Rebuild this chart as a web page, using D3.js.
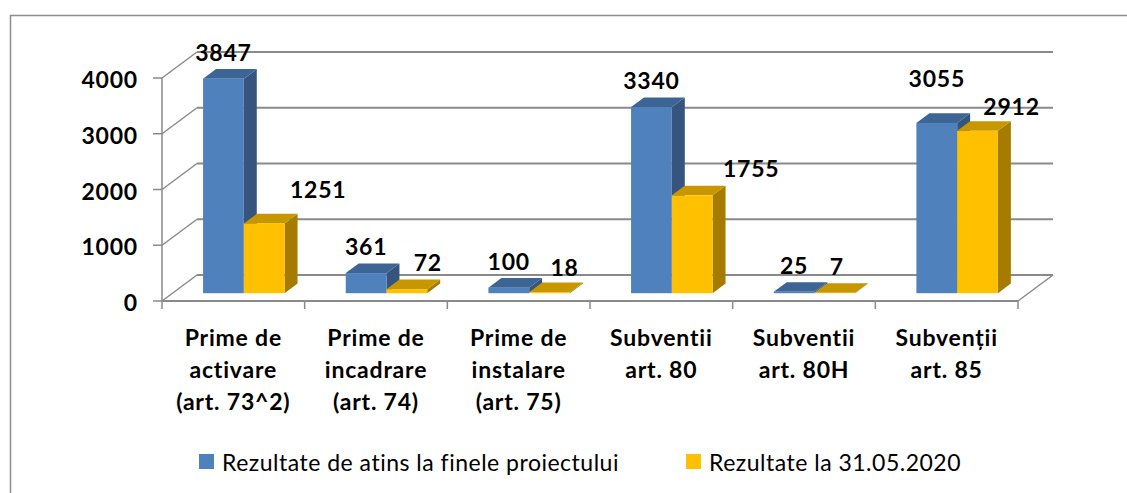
<!DOCTYPE html>
<html>
<head>
<meta charset="utf-8">
<script src="https://cdn.jsdelivr.net/npm/d3@7"></script>
<style>
  body { margin: 0; background: #fff; }
  svg text { font-family: Lato, "Open Sans", sans-serif; fill: #000; }
  .tick-lbl, .val-lbl, .cat-lbl { font-weight: bold; letter-spacing: 0.8px; }
</style>
</head>
<body>
<div id="chart"></div>
<script>
var categories = [
  ["Prime de", "activare", "(art. 73^2)"],
  ["Prime de", "incadrare", "(art. 74)"],
  ["Prime de", "instalare", "(art. 75)"],
  ["Subventii", "art. 80"],
  ["Subventii", "art. 80H"],
  ["Subvenții", "art. 85"]
];
var seriesNames = ["Rezultate de atins la finele proiectului", "Rezultate la 31.05.2020"];
var targetValues = [3847, 361, 100, 3340, 25, 3055];
var actualValues = [1251, 72, 18, 1755, 7, 2912];
var yTicks = [0, 1000, 2000, 3000, 4000];

// label nudges (layout only), px from the default spot above the bar
var nudgeTarget = [[0, 0], [0, 0], [0, 0], [0, 0], [0, 0], [0, -18]];
var nudgeActual = [[54, -7], [21, 0], [15, 2], [59, 0], [2, 0], [34, 2]];

var svgWidth = 1127, svgHeight = 493;
var colors = [
  { front: "#4F81BD", top: "#3C6595", side: "#35557E" },
  { front: "#FFC000", top: "#C89700", side: "#A67C00" }
];
var grid = "#8a8a8a";

// depth of the floor (3d offset), and where bars sit in that depth
var depth = { dx: 35, dy: -26 };
var f0 = 0.3, f1 = 0.67;

var svg = d3.select("#chart").append("svg")
  .attr("width", svgWidth)
  .attr("height", svgHeight);

// outer chart border (runs off the right/bottom of the picture)
svg.append("rect")
  .attr("x", 10.5).attr("y", 15.5)
  .attr("width", 1200).attr("height", 600)
  .attr("fill", "none")
  .attr("stroke", "#8c8c8c")
  .attr("stroke-width", 1.5);

var x = d3.scaleBand()
  .domain(d3.range(categories.length))
  .range([162, 1018])
  .paddingInner(0).paddingOuter(0);

var xs = d3.scaleBand()
  .domain([0, 1])
  .range([0, x.bandwidth()])
  .paddingInner(0).paddingOuter(0.75);

var y = d3.scaleLinear().domain([0, 4000]).range([301, 78]);

var x0 = x.range()[0], x1 = x.range()[1];
var g = svg.append("g");

// back wall gridlines + side wall diagonals
yTicks.forEach(function(t) {
  g.append("line")
    .attr("x1", x0 + depth.dx).attr("x2", x1 + depth.dx)
    .attr("y1", y(t) + depth.dy).attr("y2", y(t) + depth.dy)
    .attr("stroke", grid).attr("stroke-width", 1.8);
  g.append("line")
    .attr("x1", x0).attr("x2", x0 + depth.dx)
    .attr("y1", y(t)).attr("y2", y(t) + depth.dy)
    .attr("stroke", grid).attr("stroke-width", 1.5);
});

// floor right edge
g.append("line")
  .attr("x1", x1).attr("x2", x1 + depth.dx)
  .attr("y1", y(0)).attr("y2", y(0) + depth.dy)
  .attr("stroke", grid).attr("stroke-width", 1.5);

// front axes
g.append("line")
  .attr("x1", x0).attr("x2", x0)
  .attr("y1", y(0)).attr("y2", y(4000))
  .attr("stroke", grid).attr("stroke-width", 1.5);
g.append("line")
  .attr("x1", x0).attr("x2", x1)
  .attr("y1", y(0)).attr("y2", y(0))
  .attr("stroke", grid).attr("stroke-width", 1.8);

// y ticks + labels
yTicks.forEach(function(t) {
  g.append("line")
    .attr("x1", x0 - 9).attr("x2", x0)
    .attr("y1", y(t)).attr("y2", y(t))
    .attr("stroke", grid).attr("stroke-width", 1.5);
  g.append("text")
    .attr("class", "tick-lbl")
    .attr("x", 138).attr("y", y(t) + 1)
    .attr("text-anchor", "end")
    .attr("dominant-baseline", "central")
    .style("font-size", "23px")
    .text(t);
});

// category ticks
d3.range(categories.length + 1).forEach(function(i) {
  var cx = x0 + i * x.bandwidth();
  g.append("line")
    .attr("x1", cx).attr("x2", cx)
    .attr("y1", y(0)).attr("y2", y(0) + 8)
    .attr("stroke", grid).attr("stroke-width", 1.5);
});

// bars
var ddx = (f1 - f0) * depth.dx, ddy = (f1 - f0) * depth.dy;
function pts(a) { return a.map(function(p) { return p.join(","); }).join(" "); }

function drawBar(ci, si, v) {
  var c = colors[si];
  var bx = x(ci) + xs(si) + f0 * depth.dx;
  var bw = xs.bandwidth();
  var yt = y(v) + f0 * depth.dy;
  var yb = y(0) + f0 * depth.dy;
  var bar = g.append("g");
  bar.append("polygon")
    .attr("points", pts([[bx + bw, yt], [bx + bw + ddx, yt + ddy], [bx + bw + ddx, yb + ddy], [bx + bw, yb]]))
    .attr("fill", c.side);
  bar.append("polygon")
    .attr("points", pts([[bx, yt], [bx + bw, yt], [bx + bw + ddx, yt + ddy], [bx + ddx, yt + ddy]]))
    .attr("fill", c.top);
  bar.append("rect")
    .attr("x", bx).attr("y", yt)
    .attr("width", bw).attr("height", Math.max(0, yb - yt))
    .attr("fill", c.front);
  return { cx: bx + bw / 2, top: yt };
}

var labelSpots = [];
categories.forEach(function(cat, i) {
  var a = drawBar(i, 0, targetValues[i]);
  var b = drawBar(i, 1, actualValues[i]);
  labelSpots.push({ x: a.cx + nudgeTarget[i][0], y: a.top - 27 + nudgeTarget[i][1], v: targetValues[i] });
  labelSpots.push({ x: b.cx + nudgeActual[i][0], y: b.top - 27 + nudgeActual[i][1], v: actualValues[i] });
});

// value labels
g.selectAll(".val-lbl")
  .data(labelSpots)
  .enter()
  .append("text")
  .attr("class", "val-lbl")
  .attr("x", d => d.x)
  .attr("y", d => d.y)
  .attr("text-anchor", "middle")
  .attr("dominant-baseline", "central")
  .style("font-size", "23px")
  .text(d => d.v);

// category labels
categories.forEach(function(lines, i) {
  var t = g.append("text")
    .attr("class", "cat-lbl")
    .attr("text-anchor", "middle")
    .style("font-size", "23px");
  lines.forEach(function(line, k) {
    t.append("tspan")
      .attr("x", x(i) + x.bandwidth() / 2)
      .attr("y", 337 + k * 32)
      .attr("dominant-baseline", "central")
      .text(line);
  });
});

// legend
var legendX = [199, 686];
seriesNames.forEach(function(name, i) {
  svg.append("rect")
    .attr("x", legendX[i]).attr("y", 454)
    .attr("width", 15).attr("height", 15)
    .attr("fill", colors[i].front);
  svg.append("text")
    .attr("x", legendX[i] + 23).attr("y", 462)
    .attr("dominant-baseline", "central")
    .style("font-size", "23px")
    .style("letter-spacing", "0.5px")
    .text(name);
});
</script>
</body>
</html>
